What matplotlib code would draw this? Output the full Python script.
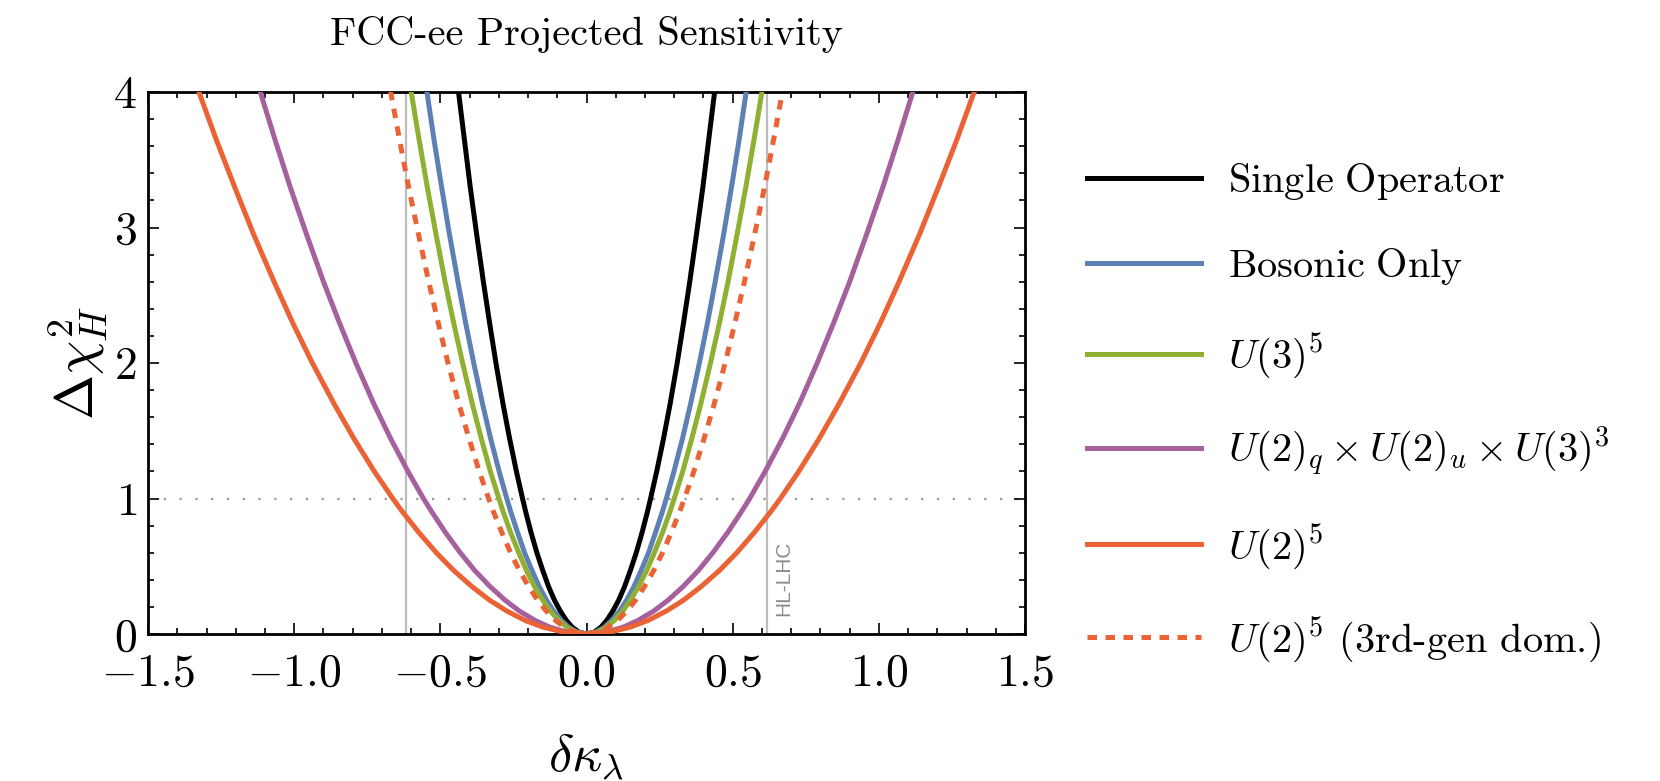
import matplotlib
matplotlib.use('Agg')
import matplotlib.pyplot as plt
from matplotlib.ticker import MultipleLocator, FixedLocator, FixedFormatter

plt.rcParams['font.family'] = 'cmr10'
plt.rcParams['mathtext.fontset'] = 'cm'
plt.rcParams['axes.unicode_minus'] = False

# ---------------- data ----------------
# Delta chi^2 levels at which the |delta kappa_lambda| crossings of each curve were read
# (curves are symmetric about 0 within reading accuracy)
chi2_levels = [0.015, 0.05, 0.1, 0.17, 0.25, 0.35, 0.47, 0.6, 0.75, 0.9, 1.0,
               1.2, 1.45, 1.7, 2.0, 2.3, 2.6, 2.95, 3.3, 3.65, 4.0, 4.4]
chi2_min = [0.0]

single_op = [0.027, 0.049, 0.069, 0.090, 0.110, 0.130, 0.150, 0.170, 0.190, 0.208, 0.219,
             0.240, 0.264, 0.286, 0.310, 0.332, 0.353, 0.376, 0.398, 0.418, 0.438, 0.459]
bosonic = [0.033, 0.061, 0.086, 0.113, 0.137, 0.162, 0.187, 0.212, 0.236, 0.259, 0.273,
           0.299, 0.329, 0.356, 0.386, 0.414, 0.440, 0.469, 0.496, 0.522, 0.546, 0.573]
u3 = [0.037, 0.067, 0.095, 0.124, 0.150, 0.178, 0.206, 0.232, 0.260, 0.285, 0.300,
      0.329, 0.361, 0.391, 0.424, 0.455, 0.484, 0.515, 0.545, 0.573, 0.600, 0.629]
u2u2u3 = [0.068, 0.125, 0.176, 0.230, 0.279, 0.330, 0.383, 0.432, 0.483, 0.529, 0.558,
          0.611, 0.672, 0.728, 0.789, 0.846, 0.900, 0.958, 1.014, 1.066, 1.116, 1.171]
u2 = [0.081, 0.148, 0.210, 0.273, 0.332, 0.392, 0.455, 0.514, 0.574, 0.629, 0.663,
      0.726, 0.798, 0.864, 0.938, 1.006, 1.069, 1.139, 1.204, 1.267, 1.326, 1.391]
u2_3rd = [0.041, 0.075, 0.106, 0.138, 0.168, 0.198, 0.230, 0.260, 0.290, 0.318, 0.335,
          0.367, 0.403, 0.437, 0.474, 0.508, 0.540, 0.575, 0.609, 0.640, 0.670, 0.703]

labels = [r'$\mathrm{Single\ Operator}$', r'$\mathrm{Bosonic\ Only}$', r'$U(3)^5$',
          r'$U(2)_q\times U(2)_u\times U(3)^3$', r'$U(2)^5$',
          r'$U(2)^5$ (3rd-gen dom.)']
colors = ['#000000', '#5E81B5', '#8FB032', '#A5609D', '#EB6235', '#EB6235']

hl_lhc = 0.616
chi2_one = 1.0

xticks = [-1.5, -1.0, -0.5, 0.0, 0.5, 1.0, 1.5]
xticklabels = [r'$-1.5$', r'$-1.0$', r'$-0.5$', r'$0.0$', r'$0.5$', r'$1.0$', r'$1.5$']
yticks = [0, 1, 2, 3, 4]
yticklabels = [r'$0$', r'$1$', r'$2$', r'$3$', r'$4$']

# ---------------- figure ----------------
fig = plt.figure(figsize=(16.6, 7.81), dpi=100)
ax = fig.add_axes([0.0892, 0.1882, 0.5283, 0.694])

ax.axvline(-hl_lhc, color='#bdbdbd', lw=1.6, zorder=1)
ax.axvline(hl_lhc, color='#bdbdbd', lw=1.6, zorder=1)
ax.axhline(chi2_one, color='#9a9a9a', lw=1.6, ls=(0, (1, 6.1)), zorder=1)

series = [single_op, bosonic, u3, u2u2u3, u2, u2_3rd]
ys = chi2_levels[::-1] + chi2_min + chi2_levels
for i, (half, lab, col) in enumerate(zip(series, labels, colors)):
    xs = [-v for v in half[::-1]] + chi2_min + half
    if i == 5:
        ax.plot(xs, ys, color=col, lw=3.6, ls=(0, (1.9, 1.7)), label=lab,
                zorder=2 + i, dash_capstyle='butt')
    else:
        ax.plot(xs, ys, color=col, lw=3.6, label=lab, zorder=2 + i,
                solid_joinstyle='round')

ax.text(hl_lhc + 0.06, 0.13, 'HL-LHC', rotation=90, color='#8c8c8c',
        family='Liberation Sans', fontsize=15, ha='center', va='bottom')

ax.set_xlim(-1.5, 1.5)
ax.set_ylim(0, 4)
ax.xaxis.set_major_locator(FixedLocator(xticks))
ax.xaxis.set_major_formatter(FixedFormatter(xticklabels))
ax.yaxis.set_major_locator(FixedLocator(yticks))
ax.yaxis.set_major_formatter(FixedFormatter(yticklabels))
ax.xaxis.set_minor_locator(MultipleLocator(0.1))
ax.yaxis.set_minor_locator(MultipleLocator(0.2))
ax.tick_params(which='both', direction='in', top=True, right=True, width=1.2)
ax.tick_params(which='major', length=7.7, labelsize=33)
ax.tick_params(which='minor', length=4.2)
ax.tick_params(axis='x', which='major', pad=14)
ax.tick_params(axis='y', which='major', pad=8)
for sp in ax.spines.values():
    sp.set_linewidth(2.0)

ax.set_xlabel(r'$\delta\kappa_\lambda$', fontsize=38)
ax.xaxis.set_label_coords(0.5, -0.18)
ax.set_ylabel(r'$\Delta\chi^2_H$', fontsize=39)
ax.yaxis.set_label_coords(-0.043, 0.50)
ax.set_title('FCC-ee Projected Sensitivity', fontsize=29, pad=34)

leg = ax.legend(loc='center left', bbox_to_anchor=(1.0707, 0.409), frameon=False,
                fontsize=29, handlelength=2.83, handletextpad=0.67,
                labelspacing=1.1, borderaxespad=0, borderpad=0)

fig.savefig('out.png', dpi=100)
